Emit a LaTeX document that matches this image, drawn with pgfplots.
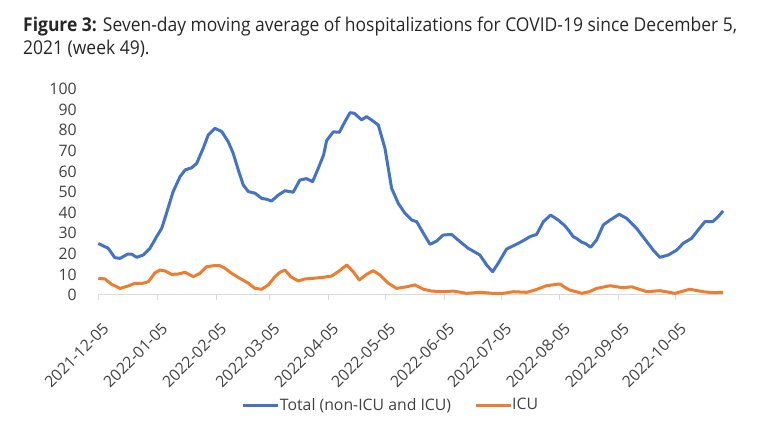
\documentclass[border=0pt]{standalone}
\usepackage{pgfplots}
\pgfplotsset{compat=1.18}
\usepackage{fontspec}
\setmainfont{Open Sans}
\newfontfamily\titlefont[FakeStretch=0.92]{Open Sans}
\definecolor{blueline}{HTML}{4472C4}
\definecolor{orangeline}{HTML}{ED7D31}
\definecolor{txt}{HTML}{404040}
\definecolor{axisgray}{HTML}{D9D9D9}
\begin{document}
\begin{tikzpicture}
\path[use as bounding box] (-98.3pt,-144pt) rectangle (681.7pt,295pt);
\node[anchor=base west, inner sep=0pt, text=black!85] at (-75.3pt,263pt) {\titlefont\fontsize{19}{23}\selectfont\textbf{Figure 3:} Seven-day moving average of hospitalizations for COVID-19 since December 5,};
\node[anchor=base west, inner sep=0pt, text=black!85] at (-75.3pt,240pt) {\titlefont\fontsize{19}{23}\selectfont 2021 (week 49).};
\begin{axis}[
  at={(0pt,0pt)}, anchor=south west,
  scale only axis, width=625pt, height=206pt,
  xmin=0, xmax=329, ymin=0, ymax=100,
  axis x line*=bottom, axis y line*=left,
  y axis line style={draw=none},
  x axis line style={draw=axisgray, line width=1pt},
  xtick={0,31,62,90,121,151,182,212,243,274,304},
  xticklabels={2021-12-05,2022-01-05,2022-02-05,2022-03-05,2022-04-05,2022-05-05,2022-06-05,2022-07-05,2022-08-05,2022-09-05,2022-10-05},
  ytick={0,10,...,100},
  tick align=outside,
  xtick style={draw=axisgray, line width=1pt},
  ytick style={draw=none},
  major tick length=5pt,
  /pgf/number format/assume math mode=true,
  ticklabel style={font=\fontsize{15.8}{18}\selectfont, text=txt},
  yticklabel style={anchor=east, inner sep=0pt, xshift=-16.5pt},
  xticklabel style={xshift=7.5pt, yshift=-26pt, rotate=45, anchor=east, inner sep=0pt},
  legend style={at={(0.4667,-0.534)}, anchor=center, draw=none, fill=none,
    font=\fontsize{15.8}{18}\selectfont, text=txt,
    /tikz/every even column/.append style={column sep=23pt},
    nodes={inner sep=0pt}},
  legend columns=2,
  legend image code/.code={\draw[#1, line width=3pt] (0pt,0pt) -- (35pt,0pt);},
  clip=false,
]
\addplot[blueline, line width=3pt, line join=round] coordinates {
(0,25) (5.2,22.7) (8.7,18.1) (11.5,17.8) (15.3,19.8) (17.6,19.8) (20.2,18.3) (23.6,19.4)
(27.2,22.7) (30.7,28.3) (33.4,32.4) (35.6,38.8) (39.4,50.2) (43.0,57.4) (45.7,60.7)
(49.2,61.8) (51.8,63.9) (55.2,71.2) (57.9,77.7) (61.4,80.9) (65.0,79.3) (68.4,74.4)
(71.0,68.8) (73.7,60.7) (76.3,53.4) (79.0,50.2) (82.5,49.4) (86.0,46.9) (88.6,46.5)
(91.2,45.6) (94.7,48.5) (98.3,50.6) (102.6,49.9) (106.1,55.8) (109.6,56.5) (112.8,55)
(116,62) (118.6,68) (120.2,75) (123.7,79.2) (126.9,79) (129.8,84.1) (132.5,88.5)
(134.8,88.2) (138.6,85) (141.2,86.6) (143.8,85) (147.4,82.5) (150.9,71.2) (154.4,51.8)
(157.9,44.5) (161.4,39.7) (165,36.4) (167.6,35.6) (171.1,30) (174.6,24.6) (178.1,26.2)
(181.5,29.1) (186,29.4) (190.4,25.9) (194.7,22.7) (200.9,19.4) (204.4,14.6) (207.6,11.3)
(210.5,15.4) (214.9,22.3) (218.5,23.9) (222.8,25.9) (227.2,28.3) (230.7,29.4) (234.3,35.6)
(238.1,38.8) (242.1,36.4) (245.6,33.6) (247.4,31.6) (250,28.3) (251.7,27.5) (254.5,25.6)
(256.2,25.1) (259.2,23.2) (262.3,26.7) (265.8,34) (269.4,36.4) (274.2,39.2) (278.1,37.2)
(283.3,32.4) (287.8,27) (292.1,21.8) (295.6,18.3) (300,19.4) (304.5,21.8) (307.9,25.1)
(312.3,27.5) (315.8,31.6) (319.3,35.6) (323.4,35.6) (326.3,38) (328.9,40.8)
};
\addlegendentry{Total (non-ICU and ICU)}
\addplot[orangeline, line width=3pt, line join=round] coordinates {
(0,8.1) (3.5,7.8) (7,5.2) (11.5,3.2) (15.8,4.4) (19.3,5.7) (23.6,5.7) (26.4,6.5)
(29.9,10.8) (32.5,12.1) (35.1,11.7) (38.6,10) (42.1,10.2) (45.7,11) (50,8.9) (53.5,10.5)
(57,13.7) (60.5,14.2) (64.1,14.2) (66.7,13) (70.2,10.5) (74.5,8.1) (79,5.7) (82.5,3.2)
(86,2.8) (89.5,4.9) (93,8.9) (95.6,11) (98.3,12.1) (101.3,8.9) (105.3,6.8) (108.8,7.8)
(113.2,8.1) (118.4,8.6) (122.8,9.2) (126.3,11.3) (130.8,14.6) (134.2,11.3) (137.4,7.3)
(141.2,10) (144.7,11.8) (148.3,9.7) (152.7,5.7) (157,3.2) (162.3,4) (166.7,4.9)
(171.1,2.8) (175.5,1.9) (181.5,1.6) (186.9,1.9) (193.9,0.8) (200.9,1.3) (207.9,0.8)
(213.1,0.8) (218.5,1.6) (225.5,1.3) (229.8,2.4) (236,4.5) (241.3,5.2) (243,5.3)
(246.5,3.2) (248.2,2.4) (252.7,1.3) (254.5,0.8) (258.5,1.6) (262.3,3.2) (269.4,4.5)
(276.3,3.5) (280.7,4) (288.7,1.6) (295.6,2.1) (303.6,0.8) (311.4,2.8) (318.4,1.6)
(323.7,1.1) (328.9,1.3)
};
\addlegendentry{ICU}
\end{axis}
\end{tikzpicture}
\end{document}
